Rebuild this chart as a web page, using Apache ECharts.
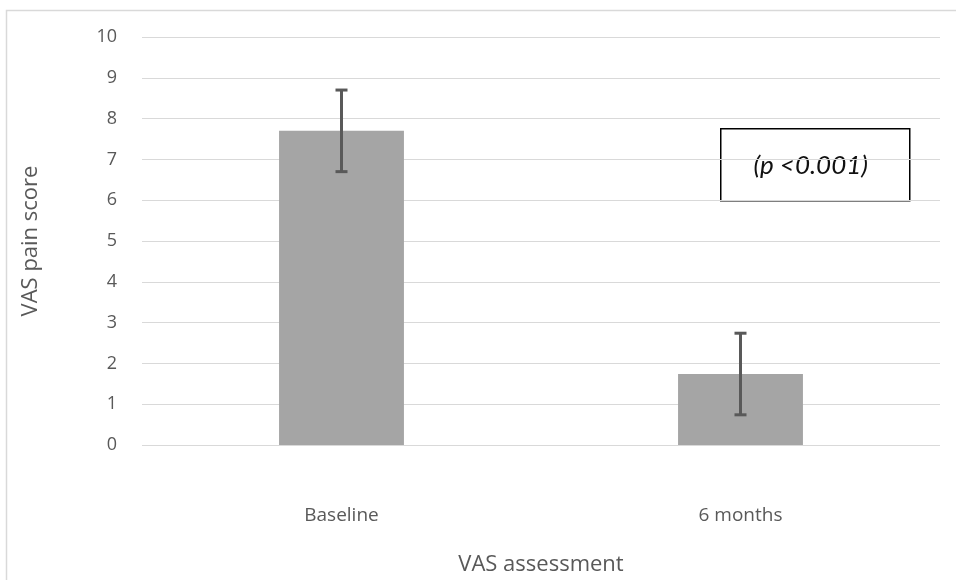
<!DOCTYPE html>
<html>
<head>
<meta charset="utf-8">
<script src="https://cdn.jsdelivr.net/npm/echarts@6/dist/echarts.min.js"></script>
<style>
  html, body { margin: 0; padding: 0; background: #fff; }
  #chart { width: 956px; height: 580px; }
</style>
</head>
<body>
<div id="chart"></div>
<script>
var categories = ['Baseline', '6 months'];
var meanScores = [7.7, 1.74];
var errorSize = [1.0, 1.0];
var yTicks = { min: 0, max: 10, interval: 1 };
var noteText = '(p <0.001)';

var fontName = '"Open Sans", Lato, sans-serif';
var textGrey = '#595959';

var errorData = categories.map(function(name, i) {
  return [i, meanScores[i] - errorSize[i], meanScores[i] + errorSize[i]];
});

var chart = echarts.init(document.getElementById('chart'));

chart.setOption({
  animation: false,
  backgroundColor: '#fff',
  grid: { left: 142, right: 16, top: 37, bottom: 135, outerBoundsMode: 'none' },
  xAxis: {
    type: 'category',
    data: categories,
    axisLine: { show: false },
    axisTick: { show: false },
    axisLabel: { color: textGrey, fontSize: 19, fontFamily: fontName, margin: 61 },
    name: 'VAS assessment',
    nameLocation: 'middle',
    nameGap: 109,
    nameTextStyle: { color: textGrey, fontSize: 22, fontFamily: fontName }
  },
  yAxis: {
    type: 'value',
    min: yTicks.min,
    max: yTicks.max,
    interval: yTicks.interval,
    axisLine: { show: false },
    axisTick: { show: false },
    splitLine: { lineStyle: { color: '#d9d9d9', width: 1 } },
    axisLabel: { color: textGrey, fontSize: 18, fontFamily: fontName, margin: 25 },
    name: 'VAS pain score',
    nameLocation: 'middle',
    nameGap: 100,
    nameTextStyle: { color: textGrey, fontSize: 22, fontFamily: fontName }
  },
  series: [
    {
      type: 'bar',
      data: meanScores,
      barWidth: '31.3%',
      itemStyle: { color: '#a5a5a5' },
      z: 2
    },
    {
      type: 'custom',
      data: errorData,
      z: 5,
      renderItem: function(params, api) {
        var x = api.value(0);
        var low = api.coord([x, api.value(1)]);
        var high = api.coord([x, api.value(2)]);
        var half = 6;
        var style = { stroke: '#595959', lineWidth: 3 };
        return {
          type: 'group',
          children: [
            { type: 'line', shape: { x1: low[0], y1: low[1], x2: high[0], y2: high[1] }, style: style },
            { type: 'line', shape: { x1: low[0] - half, y1: low[1], x2: low[0] + half, y2: low[1] }, style: style },
            { type: 'line', shape: { x1: high[0] - half, y1: high[1], x2: high[0] + half, y2: high[1] }, style: style }
          ]
        };
      }
    }
  ],
  graphic: [
    {
      type: 'rect',
      left: 4, top: 8,
      shape: { width: 960, height: 600 },
      style: { fill: 'none', stroke: '#d9d9d9', lineWidth: 1.5 },
      silent: true
    },
    {
      type: 'group',
      left: 720, top: 128,
      children: [
        {
          type: 'rect',
          shape: { width: 189, height: 72 },
          style: { fill: '#fff', stroke: '#000', lineWidth: 1.5 }
        },
        {
          type: 'text',
          x: 90, y: 37,
          style: {
            text: noteText,
            fill: '#111',
            font: 'italic 26px Lato, "Noto Sans", sans-serif',
            align: 'center',
            verticalAlign: 'middle'
          }
        }
      ]
    }
  ]
});
</script>
</body>
</html>
